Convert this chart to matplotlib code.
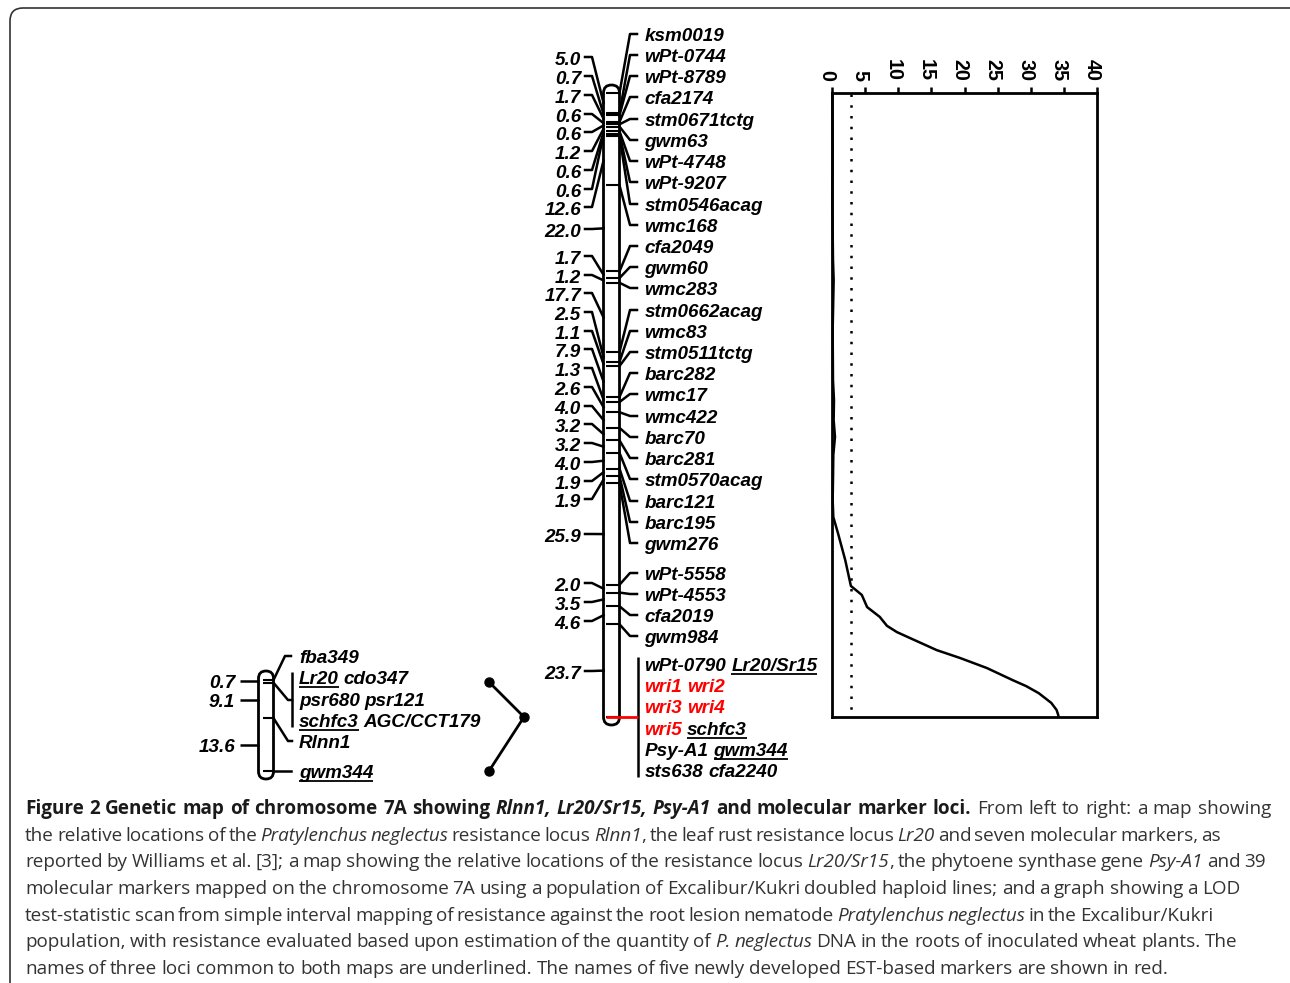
import numpy as np
import matplotlib
matplotlib.use('Agg')
import matplotlib.pyplot as plt
from matplotlib.patches import FancyBboxPatch
from matplotlib.transforms import offset_copy

# map 2 (Excalibur/Kukri), intervals in cM
map2_dist = [5.0, 0.7, 1.7, 0.6, 0.6, 1.2, 0.6, 0.6, 12.6, 22.0, 1.7, 1.2, 17.7, 2.5, 1.1,
             7.9, 1.3, 2.6, 4.0, 3.2, 3.2, 4.0, 1.9, 1.9, 25.9, 2.0, 3.5, 4.6, 23.7]
map2_names = ['ksm0019', 'wPt-0744', 'wPt-8789', 'cfa2174', 'stm0671tctg', 'gwm63', 'wPt-4748',
              'wPt-9207', 'stm0546acag', 'wmc168', 'cfa2049', 'gwm60', 'wmc283', 'stm0662acag',
              'wmc83', 'stm0511tctg', 'barc282', 'wmc17', 'wmc422', 'barc70', 'barc281',
              'stm0570acag', 'barc121', 'barc195', 'gwm276', 'wPt-5558', 'wPt-4553', 'cfa2019',
              'gwm984']
map2_group = [[('wPt-0790', 'k', False), ('Lr20/Sr15', 'k', True)],
              [('wri1', 'r', False), ('wri2', 'r', False)],
              [('wri3', 'r', False), ('wri4', 'r', False)],
              [('wri5', 'r', False), ('schfc3', 'k', True)],
              [('Psy-A1', 'k', False), ('gwm344', 'k', True)],
              [('sts638', 'k', False), ('cfa2240', 'k', False)]]

# map 1 (Williams et al.)
map1_dist = [0.7, 9.1, 13.6]
map1_labels = [[('fba349', 'k', False)],
               [('Lr20', 'k', True), ('cdo347', 'k', False)],
               [('psr680', 'k', False), ('psr121', 'k', False)],
               [('schfc3', 'k', True), ('AGC/CCT179', 'k', False)],
               [('Rlnn1', 'k', False)],
               [('gwm344', 'k', True)]]

# LOD scan
lod_pos = [0, 14.6, 27.4, 42.7, 47.8, 60.6, 73.4, 78.5, 83.6, 87.9, 92.5, 98.9, 104, 108.4, 112.5,
           119.4, 126, 128.3, 131.4, 133.9, 136.2, 137.8, 139.3, 142.4, 144.4, 147, 150.1, 151.6,
           153.4, 155.9, 157.7, 159, 159.5]
lod_val = [0.05, 0.1, 0.05, 0.15, 0.25, 0.1, 0.15, 0.3, 0.25, 0.45, 0.2, 0.15, 0.1, 0.2, 0.9,
           2.0, 2.85, 4.5, 5.3, 7.2, 8.3, 9.8, 11.75, 15.8, 19.3, 23.4, 27.3, 29.3,
           31.2, 33.1, 33.9, 34.15, 34.2]
lod_threshold = 2.8
lod_ticks = [0, 5, 10, 15, 20, 25, 30, 35, 40]

# text rows, pixels from the top
left_y = [59, 78, 97, 116, 134, 153, 172, 191, 209, 231, 258, 277, 295, 314, 333, 351, 370, 389,
          408, 426, 445, 464, 483, 501, 536, 585, 604, 623, 673]
right_y = [35, 56, 77, 98, 120, 141, 162, 183, 205, 226, 247, 268, 289, 311, 332, 353, 374, 395,
           417, 438, 459, 480, 502, 523, 544, 574, 595, 616, 637]
group_y = [665, 686, 707, 729, 750, 771]
map1_left_y = [682, 701, 746]
map1_right_y = [657, 678, 700, 721, 742, 772]

caption = [
    (1271, [('Figure 2 Genetic map of chromosome 7A showing', 'b'), ('Rlnn1, Lr20/Sr15, Psy-A1', 'bi'),
            ('and molecular marker loci.', 'b'), ('From left to right: a map showing', 'r')]),
    (1221, [('the relative locations of the', 'r'), ('Pratylenchus neglectus', 'i'), ('resistance locus', 'r'),
            ('Rlnn1', 'i'), (', the leaf rust resistance locus', 'r'), ('Lr20', 'i'),
            ('and seven molecular markers, as', 'r')]),
    (1266, [('reported by Williams et al. [3]; a map showing the relative locations of the resistance locus', 'r'),
            ('Lr20/Sr15', 'i'), (', the phytoene synthase gene', 'r'), ('Psy-A1', 'i'), ('and 39', 'r')]),
    (1240, [('molecular markers mapped on the chromosome 7A using a population of Excalibur/Kukri doubled haploid lines; and a graph showing a LOD', 'r')]),
    (1213, [('test-statistic scan from simple interval mapping of resistance against the root lesion nematode', 'r'),
            ('Pratylenchus neglectus', 'i'), ('in the Excalibur/Kukri', 'r')]),
    (1237, [('population, with resistance evaluated based upon estimation of the quantity of', 'r'),
            ('P. neglectus', 'i'), ('DNA in the roots of inoculated wheat plants. The', 'r')]),
    (1168, [('names of three loci common to both maps are underlined. The names of five newly developed EST-based markers are shown in red.', 'r')]),
]
caption_y = [814, 841, 867, 894, 921, 947, 974]

W, H = 1290, 983
LW = 1.8
LABEL = dict(family='Liberation Sans', weight='bold', style='italic', fontsize=13.6)

fig = plt.figure(figsize=(W / 100, H / 100), dpi=100)
renderer = fig.canvas.get_renderer()


def full_axes(top, bottom):
    a = fig.add_axes([0, 0, 1, 1])
    a.set_xlim(0, W)
    a.set_ylim(bottom, top)
    a.axis('off')
    return a


ax = full_axes(0, H)
ax.add_patch(FancyBboxPatch((10, 8), 1300, 1000, boxstyle='round,pad=0,rounding_size=13',
                            fc='white', ec='#333333', lw=1.2))


def label_row(a, x, y, parts, fy):
    # words one after the other, with underline where needed
    for word, col, under in parts:
        t = a.text(x, fy(y + 6), word, color=col, ha='left', va='baseline', **LABEL)
        w = t.get_window_extent(renderer).width
        if under:
            a.plot([x, x + w], [fy(y + 8.5)] * 2, color=col, lw=1.3, solid_capstyle='butt')
        x += w + 5


def draw_map(a, dist, x_left, x_right, tick_left, top, bottom):
    ax.add_patch(FancyBboxPatch((x_left, top), x_right - x_left, bottom - top,
                                boxstyle='round,pad=0,rounding_size=%g' % ((x_right - x_left) / 2),
                                fc='none', ec='k', lw=LW + 0.2, zorder=4))
    pos = np.concatenate([[0], np.cumsum(dist)])
    a.hlines(pos, tick_left, x_right, color='k', lw=LW - 0.3, zorder=3)
    return pos, (pos[:-1] + pos[1:]) / 2


# map 2
scale2 = 3.912
ax2 = full_axes(-93 / scale2, (H - 93) / scale2)
fy2 = lambda p: (p - 93) / scale2
pos2, mid2 = draw_map(ax2, map2_dist, 603.5, 619.5, 606, 85, 725)
for d, m, y in zip(map2_dist, mid2, left_y):
    ax2.text(581, fy2(y + 6), '%.1f' % d, ha='right', va='baseline', color='k', **LABEL)
    ax2.plot([585, 592, 603.5], [fy2(y - 2), fy2(y - 2), m], color='k', lw=LW, solid_joinstyle='round')
for name, p, y in zip(map2_names, pos2, right_y):
    ax2.text(644.5, fy2(y + 6), name, ha='left', va='baseline', color='k', **LABEL)
    ax2.plot([619.5, 630, 637], [p, fy2(y - 1), fy2(y - 1)], color='k', lw=LW, solid_joinstyle='round')
ax2.plot([606, 638], [pos2[-1], pos2[-1]], color='r', lw=LW + 0.2, zorder=5, solid_capstyle='butt')
ax2.plot([638, 638], [fy2(657), fy2(777)], color='k', lw=LW, solid_capstyle='butt')
for parts, y in zip(map2_group, group_y):
    label_row(ax2, 644.5, y, parts, fy2)

# map 1
scale1 = 3.89
ax1 = full_axes(-680 / scale1, (H - 680) / scale1)
fy1 = lambda p: (p - 680) / scale1
pos1, mid1 = draw_map(ax1, map1_dist, 258.5, 273.5, 263, 671, 779)
for d, m, y in zip(map1_dist, mid1, map1_left_y):
    ax1.text(235, fy1(y + 6), '%.1f' % d, ha='right', va='baseline', color='k', **LABEL)
    ax1.plot([240, 258.5], [m, m], color='k', lw=LW, solid_capstyle='butt')
ax1.plot([273.5, 285, 291], [pos1[0], fy1(656), fy1(656)], color='k', lw=LW)
ax1.plot([273.5, 288, 292], [pos1[1], fy1(700), fy1(700)], color='k', lw=LW)
ax1.plot([292, 292], [fy1(672), fy1(727)], color='k', lw=LW, solid_capstyle='butt')
ax1.plot([273.5, 288, 292], [pos1[2], fy1(741), fy1(741)], color='k', lw=LW)
ax1.plot([273.5, 291], [pos1[3], pos1[3]], color='k', lw=LW)
for parts, y in zip(map1_labels, map1_right_y):
    label_row(ax1, 299, y, parts, fy1)

# lines between the maps
ax.plot([489, 524, 489], [682, 717, 771], color='k', lw=2.0, marker='o', ms=6.5, mec='k', mfc='k')

# LOD graph
lod = fig.add_axes([832 / W, 1 - 717 / H, (1097 - 832) / W, (717 - 93) / H])
lod.set_facecolor('none')
lod.plot(lod_val, lod_pos, color='k', lw=LW, clip_on=False)
lod.plot([lod_threshold, lod_threshold], [0.3, 159], color='k', lw=1.8, dashes=(1, 3.3))
lod.set_xlim(0, 40)
lod.set_ylim(pos2[-1], 0)
lod.set_xticks(lod_ticks)
lod.set_xticklabels([])
lod.set_yticks([])
lod.xaxis.tick_top()
lod.tick_params(axis='x', length=4.5, width=LW)
for s in lod.spines.values():
    s.set_linewidth(LW + 0.2)
tick_tr = offset_copy(lod.get_xaxis_transform(), fig=fig, x=-3.6, y=8.6, units='points')
for v in lod_ticks:
    lod.text(v, 1, str(v), transform=tick_tr, rotation=-90, family='Liberation Sans', weight='bold',
             fontsize=14.2, color='k', ha='center', va='bottom', clip_on=False)

# caption, placed word by word so the lines end where they should
STYLES = {'r': dict(weight='normal', style='normal', color='#333333'),
          'i': dict(weight='normal', style='italic', color='#333333'),
          'b': dict(weight='bold', style='normal', color='#1a1a1a'),
          'bi': dict(weight='bold', style='italic', color='#1a1a1a')}
for (end, runs), y in zip(caption, caption_y):
    items = []
    for txt, st in runs:
        glue = txt[0] in ',.;'
        for i, word in enumerate(txt.split()):
            t = ax.text(0, y, word, ha='left', va='baseline', family='Open Sans', fontsize=13.6, **STYLES[st])
            items.append((t, t.get_window_extent(renderer).width, glue and i == 0))
    n_gaps = sum(1 for it in items[1:] if not it[2])
    gap = (end - 25 - sum(it[1] for it in items)) / n_gaps
    x = 25
    for k, (t, w, g) in enumerate(items):
        if k > 0 and not g:
            x += gap
        t.set_x(x)
        x += w

fig.savefig('out.png', dpi=100)
